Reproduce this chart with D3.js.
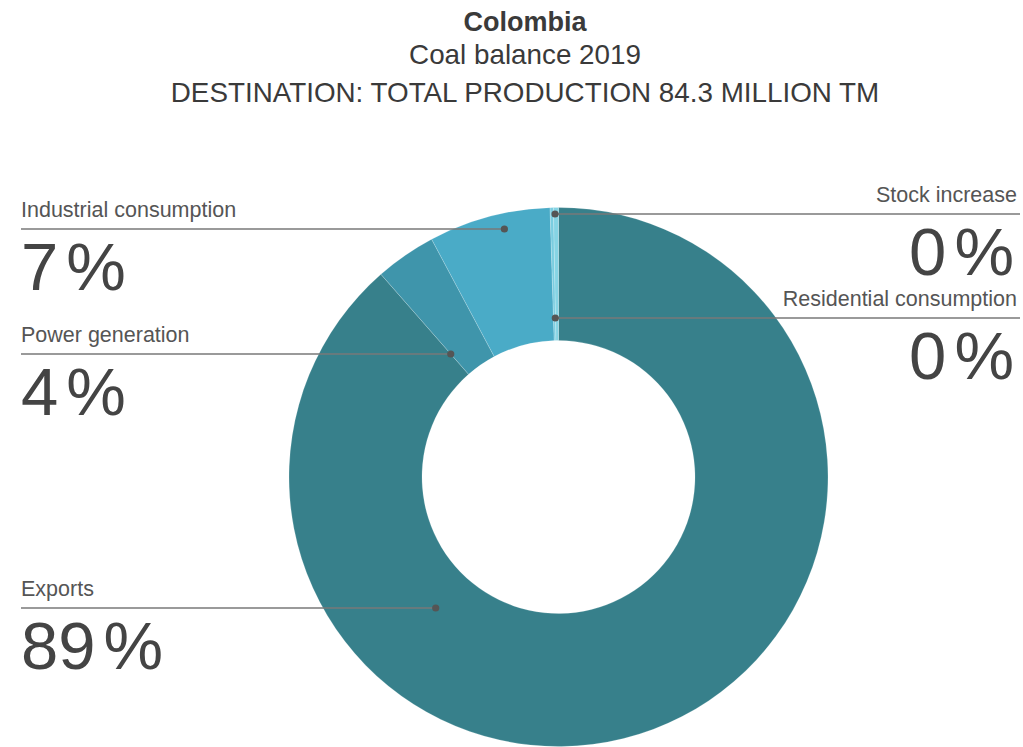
<!DOCTYPE html>
<html>
<head>
<meta charset="utf-8">
<script src="https://cdn.jsdelivr.net/npm/d3@7"></script>
<style>
  html, body { margin: 0; padding: 0; background: #fff; }
  svg { display: block; font-family: "Liberation Sans", Arial, Helvetica, sans-serif; }
</style>
</head>
<body>
<svg id="chart" width="1023" height="747"></svg>
<script>
// Coal destination shares, Colombia 2019 (percent of total production)
const categories = ["Exports", "Power generation", "Industrial consumption", "Residential consumption", "Stock increase"];
const shares = [88.55, 3.65, 7.3, 0.2, 0.3];
const colors = ["#37808b", "#3f95ab", "#4aabc7", "#7acde0", "#86d4e4"];

const titleLines = ["Colombia", "Coal balance 2019", "DESTINATION: TOTAL PRODUCTION 84.3 MILLION TM"];

// Label layout: side of the chart, y of the leader line, and where along the slice the leader dot sits
const labelLayout = [
  { side: "left",  lineY: 608, t: 0.7 },
  { side: "left",  lineY: 354, t: 0.0 },
  { side: "left",  lineY: 229, t: 0.6 },
  { side: "right", lineY: 318, t: 0.9 },
  { side: "right", lineY: 214, t: 0.3 }
];

const W = 1023, H = 747;
const cx = 558.5, cy = 477, outerR = 269.5, innerR = 136.5;
const svg = d3.select("#chart");

// Titles
const titleG = svg.append("g").attr("text-anchor", "middle").attr("fill", "#3a3a3a");
titleG.append("text").attr("x", 525).attr("y", 31).attr("font-size", 27).attr("font-weight", "bold").text(titleLines[0]);
titleG.append("text").attr("x", 525).attr("y", 64).attr("font-size", 27.8).text(titleLines[1]);
titleG.append("text").attr("x", 525).attr("y", 102).attr("font-size", 27.8).text(titleLines[2]);

// Donut
const data = categories.map((c, i) => ({ name: c, value: shares[i], color: colors[i], layout: labelLayout[i] }));
const pie = d3.pie().value(d => d.value).sort(null);
const arcs = pie(data);
const arc = d3.arc().innerRadius(innerR).outerRadius(outerR);

const g = svg.append("g").attr("transform", `translate(${cx},${cy})`);
g.selectAll("path").data(arcs).join("path")
  .attr("d", arc)
  .attr("fill", d => d.data.color)
  .attr("stroke", "rgba(255,255,255,0.3)")
  .attr("stroke-width", 0.6);

// Labels with leader lines
const fmt = v => d3.format(".0f")(v);
const labels = svg.append("g");
arcs.forEach(a => {
  const L = a.data.layout;
  const ang = a.startAngle + L.t * (a.endAngle - a.startAngle);
  const dy = L.lineY - cy;
  const r = -dy / Math.cos(ang);           // radius where the ray meets the leader line
  const dotX = cx + r * Math.sin(ang);
  const left = L.side === "left";
  const lineStart = left ? 21 : 1020;
  const textX = left ? 21 : 1017;
  const numX = left ? 21 : 1014;
  const anchor = left ? "start" : "end";

  labels.append("line")
    .attr("x1", lineStart).attr("x2", dotX)
    .attr("y1", L.lineY).attr("y2", L.lineY)
    .attr("stroke", "#787878").attr("stroke-width", 1.4);
  labels.append("circle")
    .attr("cx", dotX).attr("cy", L.lineY).attr("r", 3.6)
    .attr("fill", "#555");

  labels.append("text")
    .attr("x", textX).attr("y", L.lineY - 12)
    .attr("text-anchor", anchor)
    .attr("font-size", 21.5).attr("fill", "#555")
    .text(a.data.name);

  const num = labels.append("text")
    .attr("x", numX).attr("y", L.lineY + 61)
    .attr("text-anchor", anchor)
    .attr("font-size", 67).attr("fill", "#444");
  num.append("tspan").text(fmt(a.data.value));
  num.append("tspan").attr("dx", "0.12em").text("%");
});
</script>
</body>
</html>
